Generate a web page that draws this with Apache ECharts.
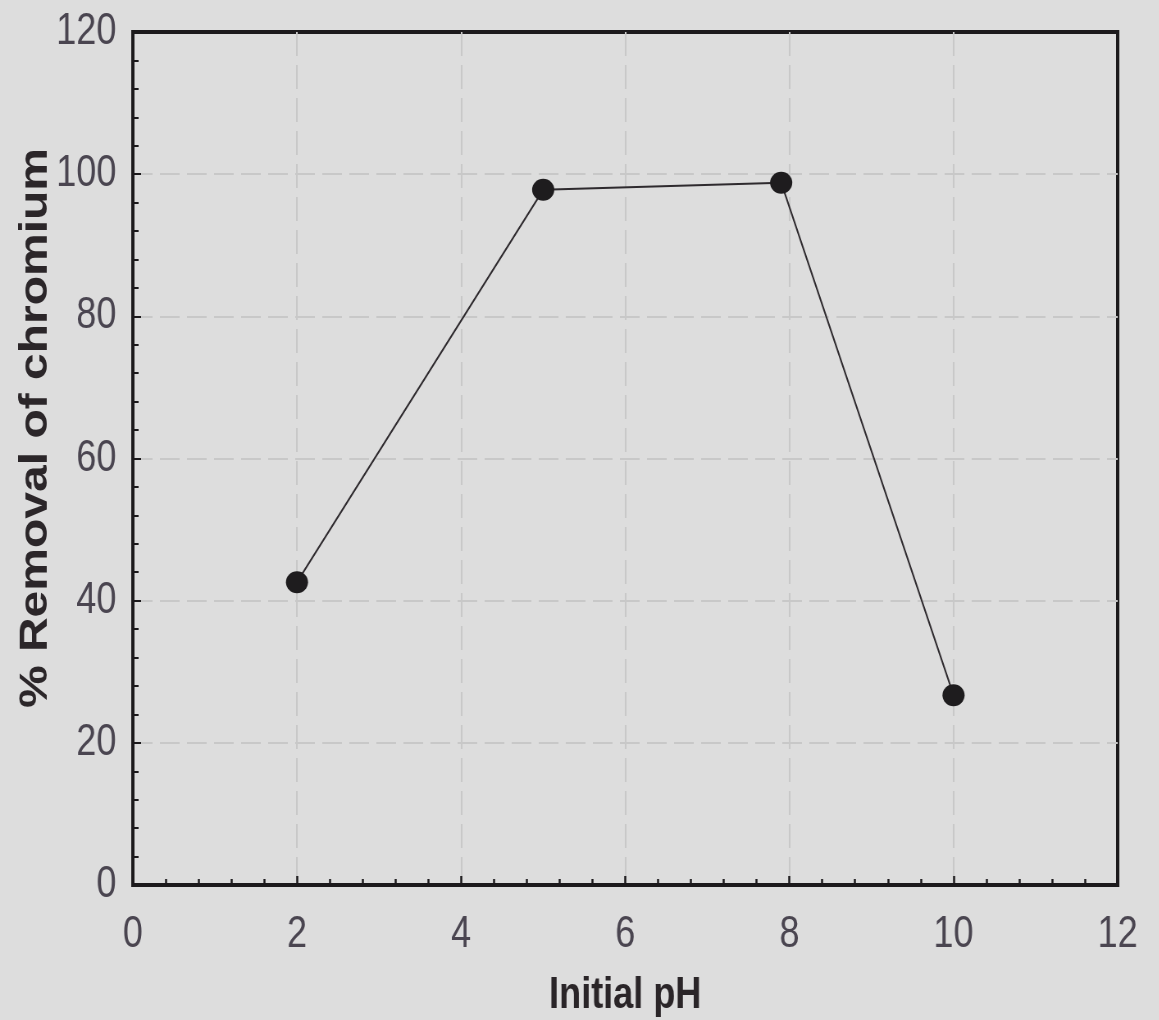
<!DOCTYPE html>
<html>
<head>
<meta charset="utf-8">
<title>Effect of initial pH on chromium removal</title>
<script src="https://cdn.jsdelivr.net/npm/echarts@6/dist/echarts.min.js"></script>
<style>
  html, body { margin: 0; padding: 0; background: #dddddd; overflow: hidden; width: 1159px; height: 1020px; }
  /* The figure is drawn on a wider canvas and squeezed horizontally,
     which gives the tall, narrow lettering of the printed plot. */
  #chart { width: 1413px; height: 1020px; transform: scaleX(0.82); transform-origin: 0 0; }
</style>
</head>
<body>
<div id="chart"></div>
<script>
// Initial pH of the solution and the resulting % removal of chromium
const initialPH = [2, 5, 7.9, 10];
const removalPct = [42.6, 97.8, 98.8, 26.7];

// Axis ranges and steps
const xTicks = { min: 0, max: 12, step: 2 };
const yTicks = { min: 0, max: 120, step: 20 };

const xTitle = 'Initial pH';
const yTitle = '% Removal of chromium';

const sansFont = '"Liberation Sans", Arial, Helvetica, sans-serif';
const labelColor = '#4a4550';
const inkColor = '#1c1a1c';

const points = initialPH.map((x, i) => [x, removalPct[i]]);

const chart = echarts.init(document.getElementById('chart'), null, { renderer: 'canvas' });

const gridLine = {
  show: true, showMinLine: false, showMaxLine: false,
  lineStyle: { color: '#c8c8c8', width: 2, type: [24, 9] }
};

chart.setOption({
  backgroundColor: '#dddddd',
  animation: false,
  grid: {
    left: 162, right: 50, top: 32, bottom: 135,
    outerBoundsMode: 'none',
    containLabel: false,
    show: true, borderColor: inkColor, borderWidth: 4, backgroundColor: 'transparent'
  },
  xAxis: {
    type: 'value',
    min: xTicks.min, max: xTicks.max, interval: xTicks.step,
    axisLine: { show: true, lineStyle: { color: inkColor, width: 4 } },
    axisTick: { show: true, inside: true, length: 9, lineStyle: { color: inkColor, width: 2.5 } },
    minorTick: { show: true, splitNumber: 5, length: 6, lineStyle: { color: inkColor, width: 2.5 } },
    splitLine: gridLine,
    axisLabel: { margin: 28, fontFamily: sansFont, fontSize: 44, color: labelColor },
    name: xTitle,
    nameLocation: 'middle',
    nameGap: 89,
    nameTextStyle: { fontFamily: sansFont, fontWeight: 'bold', fontSize: 44, color: '#2a2528' }
  },
  yAxis: {
    type: 'value',
    min: yTicks.min, max: yTicks.max, interval: yTicks.step,
    axisLine: { show: true, lineStyle: { color: inkColor, width: 4 } },
    axisTick: { show: true, inside: true, length: 10, lineStyle: { color: inkColor, width: 2 } },
    minorTick: { show: true, splitNumber: 5, length: 7, lineStyle: { color: inkColor, width: 2 } },
    splitLine: gridLine,
    axisLabel: { margin: 20, fontFamily: sansFont, fontSize: 44, color: labelColor }
  },
  graphic: [{
    type: 'text',
    x: 44, y: 428,
    rotation: Math.PI / 2,
    style: {
      text: yTitle,
      font: 'bold 48px "Liberation Sans", Arial, sans-serif',
      fill: '#2b2629',
      align: 'center',
      verticalAlign: 'middle'
    }
  }],
  series: [{
    type: 'line',
    data: points,
    symbol: 'circle',
    symbolSize: [27, 22],
    itemStyle: { color: '#1e1c1e' },
    lineStyle: { color: '#2e2a2e', width: 2 },
    z: 5
  }]
});
</script>
</body>
</html>
